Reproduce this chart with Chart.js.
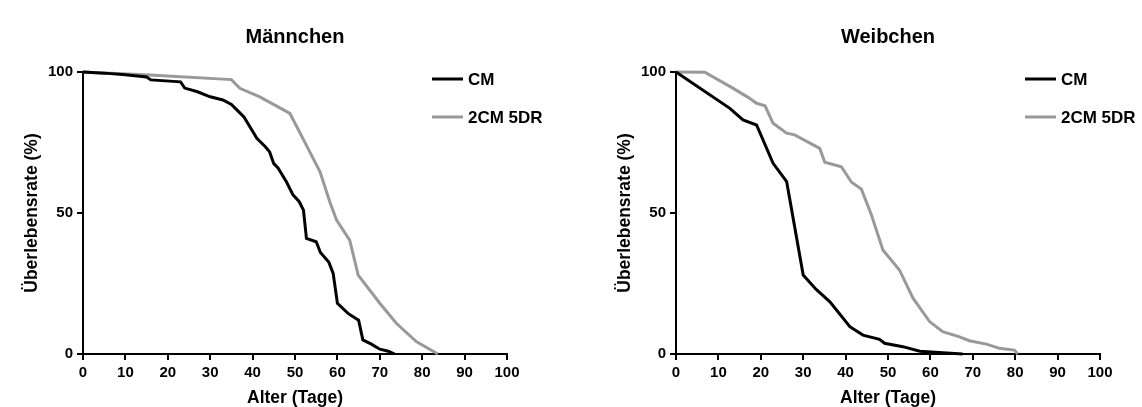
<!DOCTYPE html>
<html>
<head>
<meta charset="utf-8">
<script src="https://cdn.jsdelivr.net/npm/chart.js@4"></script>
<style>
    html, body { margin: 0; padding: 0; background: #fff; overflow: hidden; }
    body { width: 1142px; height: 407px; position: relative; }
    .panel { position: absolute; top: 0; width: 590px; height: 407px; }
    #malePanel { left: 0; }
    #femalePanel { left: 593px; }
</style>
</head>
<body>
<div class="panel" id="malePanel"><canvas id="maleChart"></canvas></div>
<div class="panel" id="femalePanel"><canvas id="femaleChart"></canvas></div>
<script>
// Männchen
const maleCmAge = [0, 5, 10, 15, 16, 23, 24, 27, 30, 33, 35, 37, 38, 40, 41, 43, 44, 45, 46, 48, 49.5, 51, 52, 52.7, 55, 56, 58, 59, 60, 62.5, 65, 66, 68, 70, 72, 73.5];
const maleCmSurv = [100, 99.6, 99, 98.2, 97.2, 96.5, 94.3, 93, 91.2, 90.1, 88.5, 85.5, 84, 79, 76.5, 73.5, 71.7, 67.5, 66, 61, 56.5, 54, 51, 41, 39.8, 36, 32.5, 28.6, 18, 14.4, 12, 5, 3.5, 1.7, 1, 0];
const maleDrAge = [0, 15.8, 35, 37, 41.7, 48.8, 52, 55.9, 58.2, 59.8, 62.9, 64.9, 70, 73.9, 78.6, 83.7];
const maleDrSurv = [100, 98.9, 97.3, 94.2, 91.2, 85.3, 76, 64.6, 54, 47.5, 40.4, 28, 18, 10.9, 4.4, 0];

// Weibchen
const femaleCmAge = [0, 12.7, 15.8, 19, 22.9, 26.1, 30, 33, 36.3, 41, 44.1, 48, 49.2, 53.5, 57.5, 62, 67.6];
const femaleCmSurv = [100, 87.1, 83, 81.2, 67.6, 61.1, 28, 23, 18.5, 9.7, 6.7, 5.2, 3.8, 2.6, 1, 0.5, 0];
const femaleDrAge = [0, 6.8, 13.5, 17, 19, 21, 22.9, 26.1, 28, 33.9, 35.1, 39, 41.4, 43.7, 46.1, 48.8, 52.7, 55.9, 59.8, 62.9, 66.9, 69.2, 73.2, 76.3, 79.8, 80.6];
const femaleDrSurv = [100, 99.9, 94.2, 91, 88.9, 88, 81.8, 78.3, 77.7, 72.9, 68, 66.4, 60.9, 58.5, 49.3, 36.9, 29.8, 19.8, 11.5, 7.9, 6.1, 4.7, 3.5, 2, 1.4, 0];

const seriesLabels = ["CM", "2CM 5DR"];
const seriesColors = ["#000000", "#999999"];
const xTicks = [0, 10, 20, 30, 40, 50, 60, 70, 80, 90, 100];
const yTicks = [0, 50, 100];

const FONT = "'Liberation Sans', Arial, sans-serif";

function toPoints( xs, ys ) {
    return xs.map( ( x, i ) => ( { x: x, y: ys[i] } ) );
}

// legend drawn inside the plot, top right
const sideLegend = {
    id: "sideLegend",
    afterDraw( chart, args, opts ) {
        const ctx = chart.ctx;
        const area = chart.chartArea;
        ctx.save();
        ctx.font = "bold 17px " + FONT;
        ctx.textBaseline = "middle";
        ctx.textAlign = "left";
        chart.data.datasets.forEach( ( ds, i ) => {
            const y = area.top + opts.top + i * opts.gap;
            const x = area.left + opts.left;
            ctx.strokeStyle = ds.borderColor;
            ctx.lineWidth = 3;
            ctx.beginPath();
            ctx.moveTo( x, y );
            ctx.lineTo( x + 31, y );
            ctx.stroke();
            ctx.fillStyle = "#000";
            ctx.fillText( ds.label, x + 36, y + 1 );
        } );
        ctx.restore();
    }
};

function makeChart( id, title, cmPoints, drPoints ) {
    const ctx = document.getElementById( id ).getContext( "2d" );
    return new Chart( ctx, {
        type: "line",
        data: {
            datasets: [
                { label: seriesLabels[0], data: cmPoints, borderColor: seriesColors[0] },
                { label: seriesLabels[1], data: drPoints, borderColor: seriesColors[1] }
            ].map( ds => Object.assign( ds, {
                borderWidth: 3,
                pointRadius: 0,
                tension: 0,
                fill: false,
                clip: 4
            } ) )
        },
        options: {
            responsive: true,
            maintainAspectRatio: false,
            animation: false,
            layout: { padding: 0 },
            plugins: {
                legend: { display: false },
                tooltip: { enabled: false },
                title: {
                    display: true,
                    text: title,
                    color: "#000",
                    font: { family: FONT, size: 20, weight: "bold" },
                    padding: { top: 25, bottom: 23 }
                },
                sideLegend: { left: 349, top: 7, gap: 38 }
            },
            scales: {
                x: {
                    type: "linear",
                    min: 0,
                    max: 100,
                    afterBuildTicks: axis => { axis.ticks = xTicks.map( v => ( { value: v } ) ); },
                    afterFit: axis => { axis.height = 53; },
                    ticks: {
                        color: "#000",
                        padding: 4,
                        font: { family: FONT, size: 15, weight: "bold" }
                    },
                    grid: { drawOnChartArea: false, drawTicks: true, tickLength: 6, color: "#000", lineWidth: 2 },
                    border: { color: "#000", width: 2 },
                    title: {
                        display: true,
                        text: "Alter (Tage)",
                        color: "#000",
                        font: { family: FONT, size: 17.5, weight: "bold", lineHeight: 1 },
                        padding: 0
                    }
                },
                y: {
                    min: 0,
                    max: 100,
                    afterBuildTicks: axis => { axis.ticks = yTicks.map( v => ( { value: v } ) ); },
                    afterFit: axis => { axis.width = 83; },
                    ticks: {
                        color: "#000",
                        padding: 4,
                        font: { family: FONT, size: 15, weight: "bold" }
                    },
                    grid: { drawOnChartArea: false, drawTicks: true, tickLength: 6, color: "#000", lineWidth: 2 },
                    border: { color: "#000", width: 2 },
                    title: {
                        display: true,
                        text: "Überlebensrate (%)",
                        color: "#000",
                        font: { family: FONT, size: 17.5, weight: "bold" },
                        padding: { top: 22, bottom: 0 }
                    }
                },
                // empty axis on the right so the title centres over the plot
                yPad: {
                    position: "right",
                    ticks: { display: false },
                    grid: { display: false },
                    border: { display: false },
                    afterFit: axis => { axis.width = 83; }
                }
            }
        },
        plugins: [sideLegend]
    } );
}

makeChart( "maleChart", "Männchen", toPoints( maleCmAge, maleCmSurv ), toPoints( maleDrAge, maleDrSurv ) );
makeChart( "femaleChart", "Weibchen", toPoints( femaleCmAge, femaleCmSurv ), toPoints( femaleDrAge, femaleDrSurv ) );
</script>
</body>
</html>
